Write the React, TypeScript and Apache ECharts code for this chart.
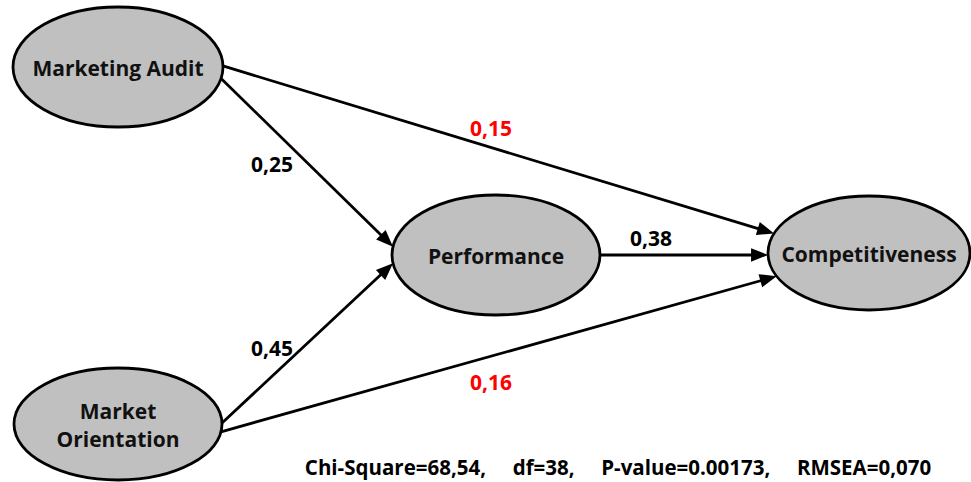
import React, { useEffect, useRef } from 'react';
import * as echarts from 'echarts';

// ---- data ----
const nodeNames = ['Marketing Audit', 'Market\nOrientation', 'Performance', 'Competitiveness'];
const edgeSource = [0, 0, 1, 1, 2];
const edgeTarget = [3, 2, 2, 3, 3];
const coefficients = ['0,15', '0,25', '0,45', '0,16', '0,38'];
const highlighted = [true, false, false, true, false];
const fitStats = ['Chi-Square=68,54', 'df=38', 'P-value=0.00173', 'RMSEA=0,070'];

// ---- layout (pixel space of the 971x482 canvas) ----
const nodeCenter = [[118, 67], [118, 424], [496, 255], [869, 253]];
const nodeRadius = [[105, 60], [104, 56], [104, 60], [101, 57]];
const edgeStartAngle = [-1, 11, -1, 8, 0];
const edgeEndAngle = [200, 188, 172, 156, 178];
const labelPos = [[491, 128], [272, 164], [272, 348], [491, 382], [651, 238]];

const FONT = '"Open Sans", sans-serif';
const FS = 21;

function anchor(n: number, deg: number) {
  const a = (deg * Math.PI) / 180;
  return [nodeCenter[n][0] + nodeRadius[n][0] * Math.cos(a), nodeCenter[n][1] + nodeRadius[n][1] * Math.sin(a)];
}

export default function App() {
  const ref = useRef<HTMLDivElement>(null);
  useEffect(() => {
    if (!ref.current) return;
    const chart = echarts.init(ref.current, undefined, { renderer: 'svg' });

    const nodeData = nodeNames.map((name, i) => ({
      name,
      value: [nodeCenter[i][0], nodeCenter[i][1], nodeRadius[i][0], nodeRadius[i][1]],
    }));
    const edgeData = edgeSource.map((s, i) => {
      const p1 = anchor(s, edgeStartAngle[i]);
      const p2 = anchor(edgeTarget[i], edgeEndAngle[i]);
      return { value: [p1[0], p1[1], p2[0], p2[1]] };
    });
    const labelData = coefficients.map((c, i) => ({
      name: c,
      value: labelPos[i],
      label: { color: highlighted[i] ? '#ff0000' : '#000000' },
    }));

    chart.setOption({
      animation: false,
      grid: { left: 0, right: 0, top: 0, bottom: 0 },
      xAxis: { type: 'value', min: 0, max: 971, show: false },
      yAxis: { type: 'value', min: 0, max: 482, inverse: true, show: false },
      series: [
        {
          type: 'custom',
          name: 'paths',
          data: edgeData,
          encode: { x: [0, 2], y: [1, 3] },
          renderItem: (params: any, api: any) => {
            const a = api.coord([api.value(0), api.value(1)]);
            const b = api.coord([api.value(2), api.value(3)]);
            const dx = b[0] - a[0];
            const dy = b[1] - a[1];
            const len = Math.sqrt(dx * dx + dy * dy);
            const ux = dx / len;
            const uy = dy / len;
            const L = 17;
            const W = 6.8;
            const bx = b[0] - ux * L;
            const by = b[1] - uy * L;
            return {
              type: 'group',
              children: [
                {
                  type: 'line',
                  shape: { x1: a[0], y1: a[1], x2: bx + ux * 2, y2: by + uy * 2 },
                  style: { stroke: '#000', lineWidth: 2.8 },
                },
                {
                  type: 'polygon',
                  shape: {
                    points: [
                      [b[0], b[1]],
                      [bx - uy * W, by + ux * W],
                      [bx + uy * W, by - ux * W],
                    ],
                  },
                  style: { fill: '#000' },
                },
              ],
            };
          },
          z: 1,
        },
        {
          type: 'custom',
          name: 'constructs',
          data: nodeData,
          encode: { x: 0, y: 1 },
          renderItem: (params: any, api: any) => {
            const c = api.coord([api.value(0), api.value(1)]);
            const s = api.size([api.value(2), api.value(3)]);
            return {
              type: 'group',
              children: [
                {
                  type: 'ellipse',
                  shape: { cx: c[0], cy: c[1], rx: s[0], ry: s[1] },
                  style: { fill: '#c0c0c0', stroke: '#000', lineWidth: 2.8 },
                },
                {
                  type: 'text',
                  x: c[0],
                  y: c[1] + 1,
                  style: {
                    text: nodeNames[params.dataIndex],
                    align: 'center',
                    verticalAlign: 'middle',
                    fontFamily: FONT,
                    fontWeight: 'bold',
                    fontSize: FS,
                    lineHeight: 28,
                    fill: '#111111',
                  },
                },
              ],
            };
          },
          z: 2,
        },
        {
          type: 'scatter',
          name: 'coefficients',
          data: labelData,
          symbolSize: 0,
          itemStyle: { opacity: 1 },
          label: {
            show: true,
            position: 'inside',
            formatter: '{b}',
            fontFamily: FONT,
            fontWeight: 'bold',
            fontSize: FS,
            opacity: 1,
          },
          z: 3,
        },
      ],
      graphic: [
        {
          type: 'text',
          x: 618,
          y: 467,
          style: {
            text: fitStats.join(',     '),
            align: 'center',
            verticalAlign: 'middle',
            fontFamily: FONT,
            fontWeight: 'bold',
            fontSize: 20.5,
            fill: '#000',
          },
        },
      ],
    });
    return () => chart.dispose();
  }, []);
  return <div ref={ref} style={{ position: 'absolute', left: 0, top: 0, width: 971, height: 482 }} />;
}
